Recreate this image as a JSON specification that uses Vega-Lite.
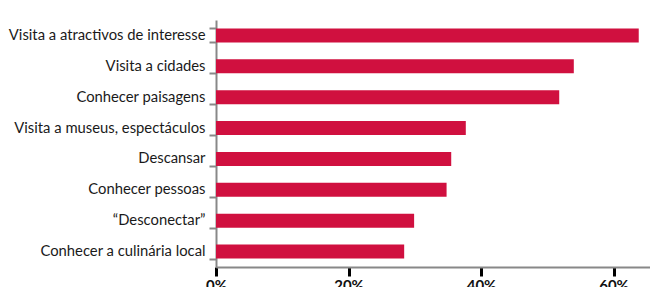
{
  "$schema": "https://vega.github.io/schema/vega-lite/v6.json",
  "autosize": "none",
  "width": 434,
  "height": 247,
  "padding": {"left": 216, "top": 20, "right": 0, "bottom": 20},
  "background": "white",
  "data": {
    "values": [
      {"motivo": "Visita a atractivos de interesse", "valor": 63.8},
      {"motivo": "Visita a cidades", "valor": 54.0},
      {"motivo": "Conhecer paisagens", "valor": 51.8},
      {"motivo": "Visita a museus, espectáculos", "valor": 37.7},
      {"motivo": "Descansar", "valor": 35.5},
      {"motivo": "Conhecer pessoas", "valor": 34.8},
      {"motivo": "“Desconectar”", "valor": 29.9},
      {"motivo": "Conhecer a culinária local", "valor": 28.4}
    ]
  },
  "mark": {"type": "bar", "color": "#d0103f"},
  "encoding": {
    "y": {
      "field": "motivo",
      "type": "nominal",
      "sort": null,
      "title": null,
      "scale": {"paddingInner": 0.55, "paddingOuter": 0.275},
      "axis": {
        "labelFont": "Lato",
        "labelFontSize": 14.8,
        "labelLimit": 0,
        "labelColor": "#1a1a1a",
        "labelPadding": 4,
        "domainColor": "#888888",
        "domainWidth": 2,
        "tickColor": "#888888",
        "tickWidth": 2,
        "tickSize": 7,
        "tickBand": "extent",
        "grid": false
      }
    },
    "x": {
      "field": "valor",
      "type": "quantitative",
      "title": null,
      "scale": {"domain": [0, 65.5], "nice": false},
      "axis": {
        "values": [0, 20, 40, 60],
        "labelExpr": "datum.value + '%'",
        "labelFont": "Lato",
        "labelFontSize": 15,
        "labelFontWeight": "bold",
        "labelColor": "#111111",
        "labelPadding": 2,
        "labelFlush": false,
        "domainColor": "#888888",
        "domainWidth": 2,
        "tickColor": "#000000",
        "tickWidth": 3,
        "tickSize": 9,
        "grid": false
      }
    }
  },
  "config": {"view": {"stroke": null}}
}
